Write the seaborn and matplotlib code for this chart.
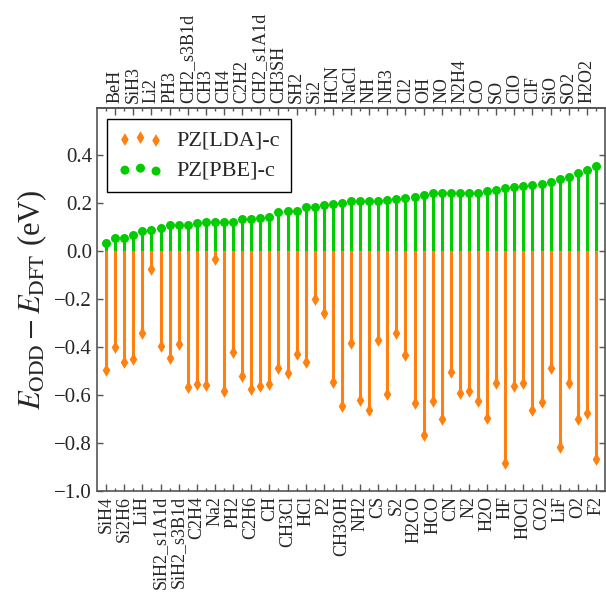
import numpy as np
import pandas as pd
import matplotlib
matplotlib.use("Agg")
import matplotlib.pyplot as plt
import seaborn as sns

molecules = ["SiH4", "BeH", "Si2H6", "SiH3", "LiH", "Li2", "SiH2_s1A1d", "PH3",
             "SiH2_s3B1d", "CH2_s3B1d", "C2H4", "CH3", "Na2", "CH4", "PH2", "C2H2",
             "C2H6", "CH2_s1A1d", "CH", "CH3SH", "CH3Cl", "SH2", "HCl", "Si2", "P2",
             "HCN", "CH3OH", "NaCl", "NH2", "NH", "CS", "NH3", "S2", "Cl2", "H2CO",
             "OH", "HCO", "NO", "CN", "N2H4", "N2", "CO", "H2O", "SO", "HF", "ClO",
             "HOCl", "ClF", "CO2", "SiO", "LiF", "SO2", "O2", "H2O2", "F2"]

pbe_c = [0.035, 0.054, 0.054, 0.065, 0.082, 0.088, 0.096, 0.110, 0.110, 0.110,
         0.118, 0.121, 0.121, 0.121, 0.121, 0.132, 0.135, 0.138, 0.143, 0.163,
         0.168, 0.168, 0.185, 0.185, 0.190, 0.196, 0.200, 0.207, 0.207, 0.207,
         0.210, 0.213, 0.215, 0.221, 0.224, 0.235, 0.240, 0.240, 0.240, 0.240,
         0.240, 0.243, 0.251, 0.254, 0.263, 0.265, 0.271, 0.276, 0.279, 0.288,
         0.301, 0.310, 0.324, 0.338, 0.354]

lda_c = [-0.496, -0.401, -0.463, -0.451, -0.342, -0.076, -0.394, -0.447, -0.386,
         -0.568, -0.554, -0.560, -0.032, -0.583, -0.419, -0.519, -0.576, -0.564,
         -0.554, -0.488, -0.507, -0.430, -0.461, -0.200, -0.260, -0.544, -0.644,
         -0.385, -0.621, -0.663, -0.371, -0.596, -0.340, -0.433, -0.635, -0.767,
         -0.624, -0.699, -0.506, -0.590, -0.582, -0.624, -0.694, -0.551, -0.882,
         -0.563, -0.551, -0.663, -0.629, -0.488, -0.818, -0.549, -0.700, -0.674,
         -0.867]

yticks = [-1.0, -0.8, -0.6, -0.4, -0.2, 0.0, 0.2, 0.4]
labels = ["PZ[LDA]-c", "PZ[PBE]-c"]

df = pd.DataFrame({"x": np.arange(len(molecules)), "mol": molecules,
                   "lda": lda_c, "pbe": pbe_c})

sns.set_style("ticks")
plt.rcParams["font.family"] = ["Liberation Serif", "DejaVu Serif"]
plt.rcParams["mathtext.fontset"] = "stix"

orange = "#ff800e"
green = "#00cc00"
spine_c = "#555555"

fig = plt.figure(figsize=(6.06, 5.94), dpi=100)
ax = fig.add_axes([97 / 606, 1 - 491 / 594, 508 / 606, (491 - 108) / 594])

ax.vlines(df["x"], 0, df["lda"], colors=orange, linewidth=2.2, zorder=2)
ax.vlines(df["x"], 0, df["pbe"], colors=green, linewidth=2.2, zorder=2)
sns.scatterplot(data=df, x="x", y="lda", marker="d", s=42, color=orange,
                edgecolor=orange, linewidth=0, ax=ax, zorder=3, legend=False)
sns.scatterplot(data=df, x="x", y="pbe", marker="o", s=42, color=green,
                edgecolor=green, linewidth=0, ax=ax, zorder=3, legend=False)

coll = ax.collections[-2:]
leg = ax.legend(handles=list(coll), labels=labels, loc="upper left",
                bbox_to_anchor=(0.02, 0.972), borderaxespad=0,
                scatterpoints=3, scatteryoffsets=[0.375, 0.5, 0.3125],
                fontsize=16, fancybox=False, framealpha=1, edgecolor="black",
                handletextpad=0.6, borderpad=0.5, labelspacing=0.45)
leg.get_frame().set_linewidth(1.0)

n = len(molecules)
ax.set_xlim(-1, n)
ax.set_ylim(-1.0, 0.596)
ax.set_yticks(yticks)
ax.set_yticklabels([f"{v:.1f}".replace("-", "\u2212") for v in yticks], fontsize=15)

even = np.arange(0, n, 2)
odd = np.arange(1, n, 2)
ax.set_xticks(even)
ax.set_xticklabels([molecules[i] for i in even], rotation=90, fontsize=13)
ax.set_xticks(odd, minor=True)
ax.set_xlabel("")

top = ax.secondary_xaxis("top")
top.set_xticks(odd)
top.set_xticklabels([molecules[i] for i in odd], rotation=90, fontsize=13)
top.set_xticks(even, minor=True)

for a in (ax, top):
    a.tick_params(which="major", direction="in", length=5, width=1, color=spine_c)
    a.tick_params(which="minor", direction="in", length=2.5, width=1, color=spine_c)
ax.tick_params(axis="y", which="major", left=True, right=True, direction="in",
               length=4, width=1, color=spine_c)
ax.tick_params(axis="x", which="both", top=False)
for s in ax.spines.values():
    s.set_color(spine_c)
    s.set_linewidth(1.2)
for s in top.spines.values():
    s.set_color(spine_c)
    s.set_linewidth(1.2)

ax.set_ylabel(r"$E_{\rm ODD} - E_{\rm DFT}$ (eV)", fontsize=22, labelpad=4)

fig.savefig("out.png", dpi=100)
